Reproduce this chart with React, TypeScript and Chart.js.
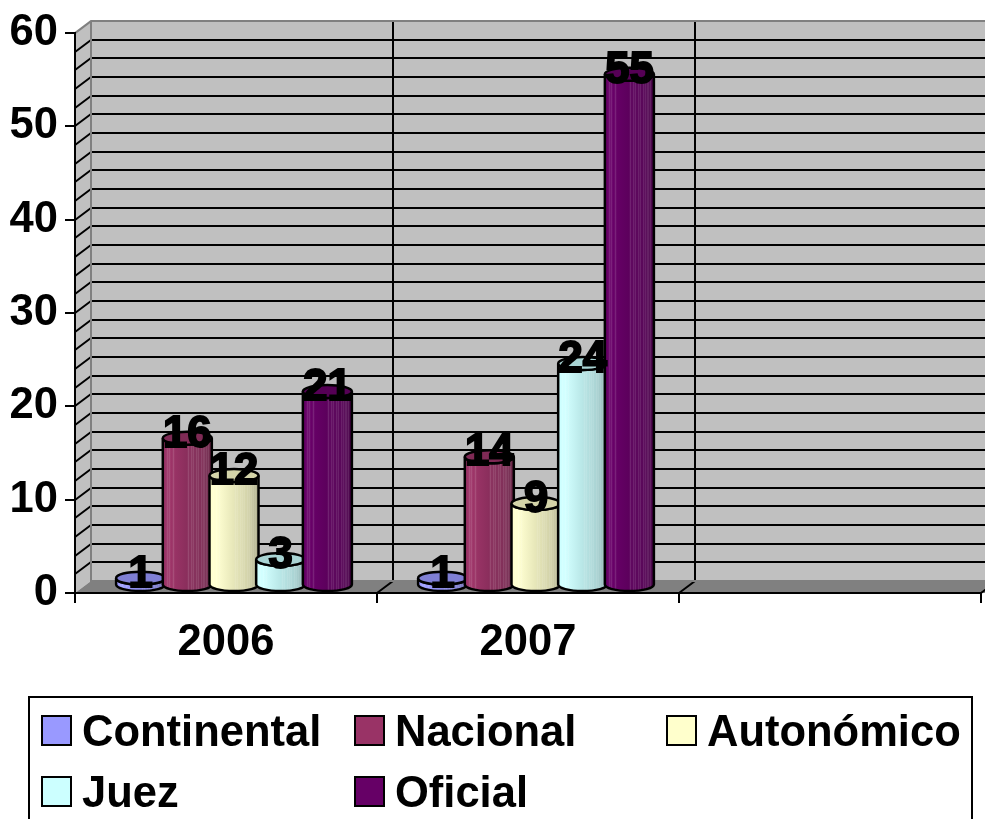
import React, { useEffect, useRef } from "react";
import { Chart, registerables } from "chart.js";

Chart.register(...registerables);

const categories = ["2006", "2007", ""];
const continental = [1, 1, null];
const nacional = [16, 14, null];
const autonomico = [12, 9, null];
const juez = [3, 24, null];
const oficial = [21, 55, null];
const seriesNames = ["Continental", "Nacional", "Autonómico", "Juez", "Oficial"];
const seriesValues = [continental, nacional, autonomico, juez, oficial];
const seriesColors = ["#9999ff", "#993366", "#ffffcc", "#ccffff", "#660066"];

const FONT = '"Liberation Sans", Arial, sans-serif';
const FONT_SIZE = 43.5;
const DEPTH_X = 16;
const DEPTH_Y = 12;
const BAR_DX = 8;
const TOP_DY = 5.5;
const BOTTOM_DY = 7.5;
const RY = 6.5;
const STRIPES = [0.08, 0.13, 0.2, 0.52, 0.57, 0.62, 0.67, 0.71, 0.77, 0.81, 0.85, 0.89, 0.93];

function shade(hex: string, k: number) {
  const n = parseInt(hex.slice(1), 16);
  const c = [(n >> 16) & 255, (n >> 8) & 255, n & 255].map((v) => Math.min(255, Math.round(v * k)));
  return `rgb(${c[0]},${c[1]},${c[2]})`;
}

const cylinderPlugin = {
  id: "cylinders",
  beforeDraw(chart: any) {
    const { ctx, scales, width } = chart;
    const x = scales.x;
    const y = scales.y;
    const l = x.left;
    const t = y.top;
    const b = y.bottom;
    const backL = l + DEPTH_X;
    const backT = t - DEPTH_Y;
    const backB = b - DEPTH_Y;
    ctx.save();
    ctx.fillStyle = "#ffffff";
    ctx.fillRect(0, 0, width, chart.height);
    // back wall and side wall
    ctx.fillStyle = "#c0c0c0";
    ctx.fillRect(backL, backT, width - backL, backB - backT);
    ctx.beginPath();
    ctx.moveTo(l, t);
    ctx.lineTo(backL, backT);
    ctx.lineTo(backL, backB);
    ctx.lineTo(l, b);
    ctx.closePath();
    ctx.fill();
    // floor
    ctx.fillStyle = "#808080";
    ctx.beginPath();
    ctx.moveTo(l, b);
    ctx.lineTo(backL, backB);
    ctx.lineTo(width + 20, backB);
    ctx.lineTo(width + 20, b);
    ctx.closePath();
    ctx.fill();
    // horizontal grid lines every 2 units
    ctx.strokeStyle = "#000000";
    ctx.lineWidth = 2;
    ctx.beginPath();
    for (let v = 2; v < 60; v += 2) {
      const py = Math.round(y.getPixelForValue(v));
      ctx.moveTo(backL, py - DEPTH_Y);
      ctx.lineTo(width, py - DEPTH_Y);
      ctx.moveTo(l, py);
      ctx.lineTo(backL, py - DEPTH_Y);
    }
    // vertical grid lines between the categories
    for (let i = 1; i <= categories.length; i++) {
      const px = Math.round(x.getPixelForTick(i - 1) + x.width / categories.length / 2);
      ctx.moveTo(px + DEPTH_X, backT);
      ctx.lineTo(px + DEPTH_X, backB);
      ctx.lineTo(px, b);
    }
    ctx.stroke();
    // wall edges
    ctx.strokeStyle = "#808080";
    ctx.beginPath();
    ctx.moveTo(l, t);
    ctx.lineTo(backL, backT);
    ctx.lineTo(width, backT);
    ctx.moveTo(backL, backT);
    ctx.lineTo(backL, backB);
    ctx.lineTo(width, backB);
    ctx.stroke();
    ctx.restore();
  },
  beforeDatasetsDraw(chart: any) {
    const { ctx } = chart;
    const labels: { text: string; x: number; y: number }[] = [];
    chart.data.datasets.forEach((ds: any, di: number) => {
      const meta = chart.getDatasetMeta(di);
      meta.data.forEach((bar: any, i: number) => {
        const v = ds.data[i];
        if (v === null || v === undefined) return;
        const color = ds.backgroundColor as string;
        const cx = bar.x + BAR_DX;
        const rx = (bar.width * 1.05) / 2;
        const top = bar.y - TOP_DY;
        const bottom = bar.base - BOTTOM_DY;
        const g = ctx.createLinearGradient(cx - rx, 0, cx + rx, 0);
        g.addColorStop(0, shade(color, 1.0));
        g.addColorStop(0.15, shade(color, 1.03));
        g.addColorStop(0.5, shade(color, 0.9));
        g.addColorStop(0.8, shade(color, 0.82));
        g.addColorStop(1, shade(color, 0.68));
        const body = () => {
          ctx.beginPath();
          ctx.moveTo(cx - rx, top);
          ctx.lineTo(cx - rx, bottom);
          ctx.ellipse(cx, bottom, rx, RY, 0, Math.PI, 0, true);
          ctx.lineTo(cx + rx, top);
          ctx.ellipse(cx, top, rx, RY, 0, 0, Math.PI, false);
          ctx.closePath();
        };
        ctx.save();
        body();
        ctx.fillStyle = g;
        ctx.fill();
        // fine vertical sheen lines of the cylinder surface
        ctx.save();
        ctx.clip();
        ctx.strokeStyle = "rgba(255,255,255,0.13)";
        ctx.lineWidth = 1.5;
        ctx.beginPath();
        STRIPES.forEach((f) => {
          const sx = Math.round(cx - rx + 2 * rx * f) + 0.5;
          ctx.moveTo(sx, top);
          ctx.lineTo(sx, bottom + RY);
        });
        ctx.stroke();
        ctx.restore();
        body();
        ctx.strokeStyle = "#000000";
        ctx.lineWidth = 2.5;
        ctx.stroke();
        ctx.beginPath();
        ctx.ellipse(cx, top, rx, RY, 0, 0, Math.PI * 2);
        ctx.fillStyle = shade(color, 0.83);
        ctx.fill();
        ctx.stroke();
        ctx.restore();
        labels.push({ text: String(v), x: cx, y: top - 3.5 });
      });
    });
    ctx.save();
    ctx.font = `bold ${FONT_SIZE}px ${FONT}`;
    ctx.textAlign = "center";
    ctx.textBaseline = "middle";
    ctx.fillStyle = "#000000";
    ctx.strokeStyle = "#000000";
    ctx.lineWidth = 2;
    labels.forEach((lb) => {
      ctx.fillText(lb.text, lb.x, lb.y);
      ctx.strokeText(lb.text, lb.x, lb.y);
    });
    ctx.restore();
    return false;
  },
  afterDraw(chart: any) {
    const { ctx } = chart;
    const colX = [42, 355, 667];
    const rowY = [716, 777];
    ctx.save();
    ctx.strokeStyle = "#000000";
    ctx.lineWidth = 2;
    ctx.strokeRect(29, 697, 943, 140);
    ctx.font = `bold ${FONT_SIZE}px ${FONT}`;
    ctx.textAlign = "left";
    ctx.textBaseline = "alphabetic";
    chart.data.datasets.forEach((ds: any, i: number) => {
      const sx = colX[i % 3];
      const sy = rowY[Math.floor(i / 3)];
      ctx.fillStyle = ds.backgroundColor;
      ctx.fillRect(sx, sy, 29, 29);
      ctx.strokeRect(sx, sy, 29, 29);
      ctx.fillStyle = "#000000";
      ctx.fillText(ds.label, sx + 40, sy + 30);
    });
    ctx.restore();
  },
};

export default function App() {
  const ref = useRef<HTMLCanvasElement>(null);
  useEffect(() => {
    document.body.style.margin = "0";
    document.body.style.background = "#ffffff";
    const chart = new Chart(ref.current!, {
      type: "bar",
      data: {
        labels: categories,
        datasets: seriesNames.map((name, i) => ({
          label: name,
          data: seriesValues[i],
          backgroundColor: seriesColors[i],
          borderColor: "#000000",
          borderWidth: 2,
        })),
      },
      options: {
        animation: false,
        responsive: false,
        events: [],
        layout: { padding: { left: 0, right: 4, top: 32, bottom: 0 } },
        plugins: { legend: { display: false }, tooltip: { enabled: false }, title: { display: false } },
        datasets: { bar: { barPercentage: 1, categoryPercentage: 0.773 } },
        scales: {
          x: {
            afterFit: (s: any) => { s.height = 226; },
            grid: { drawOnChartArea: false, drawTicks: true, tickLength: 10, color: "#000000", lineWidth: 2 },
            border: { color: "#000000", width: 2 },
            ticks: { color: "#000000", font: { family: FONT, size: FONT_SIZE, weight: "bold" }, padding: 14, maxRotation: 0 },
          },
          y: {
            min: 0,
            max: 60,
            afterFit: (s: any) => { s.width = 75; },
            grid: { drawOnChartArea: false, drawTicks: true, tickLength: 10, color: "#000000", lineWidth: 2 },
            border: { color: "#000000", width: 2 },
            ticks: { stepSize: 10, color: "#000000", font: { family: FONT, size: FONT_SIZE, weight: "bold" }, padding: 7 },
          },
        },
      },
      plugins: [cylinderPlugin],
    } as any);
    return () => chart.destroy();
  }, []);
  return (
    <div style={{ width: 985, height: 819, overflow: "hidden" }}>
      <canvas ref={ref} width={985} height={819} style={{ display: "block" }} />
    </div>
  );
}
